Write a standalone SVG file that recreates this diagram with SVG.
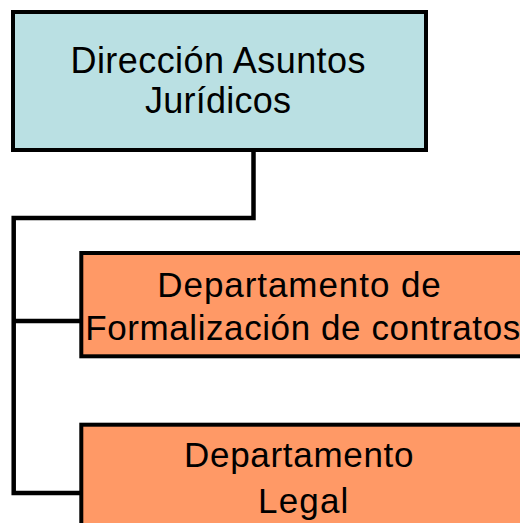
<svg xmlns="http://www.w3.org/2000/svg" width="520" height="523" viewBox="0 0 520 523">
  <style>
    .box { stroke: #000; stroke-width: 4; }
    .top { fill: #BAE0E3; }
    .dept { fill: #FF9966; }
    .conn { fill: none; stroke: #000; stroke-width: 4.5; }
    text { font-family: "Liberation Sans", Arial, sans-serif; fill: #000; }
    .t1 { font-size: 36px; }
    .t2 { font-size: 35px; }
  </style>
  <rect width="520" height="523" fill="#fff"/>
  <g id="connectors">
    <path class="conn" d="M253.5,150 V218 H13.7 V493 H82"/>
    <path class="conn" d="M13.7,321 H82"/>
  </g>
  <g id="node-direccion">
    <rect class="box top" x="13" y="12" width="413" height="138"/>
    <text class="t1" x="70.5" y="73" textLength="295" lengthAdjust="spacing">Dirección Asuntos</text>
    <text class="t1" x="145" y="113" textLength="146" lengthAdjust="spacing">Jurídicos</text>
  </g>
  <g id="node-formalizacion">
    <rect class="box dept" x="81.3" y="253" width="460" height="103.3"/>
    <text class="t2" x="157.3" y="297" textLength="283.5" lengthAdjust="spacing">Departamento de</text>
    <text class="t2" x="85.2" y="340" textLength="435" lengthAdjust="spacing">Formalización de contratos</text>
  </g>
  <g id="node-legal">
    <rect class="box dept" x="81.3" y="424.7" width="460" height="120"/>
    <text class="t2" x="184" y="467.3" textLength="229.5" lengthAdjust="spacing">Departamento</text>
    <text class="t2" x="258" y="512.7" textLength="90.3" lengthAdjust="spacing">Legal</text>
  </g>
</svg>
